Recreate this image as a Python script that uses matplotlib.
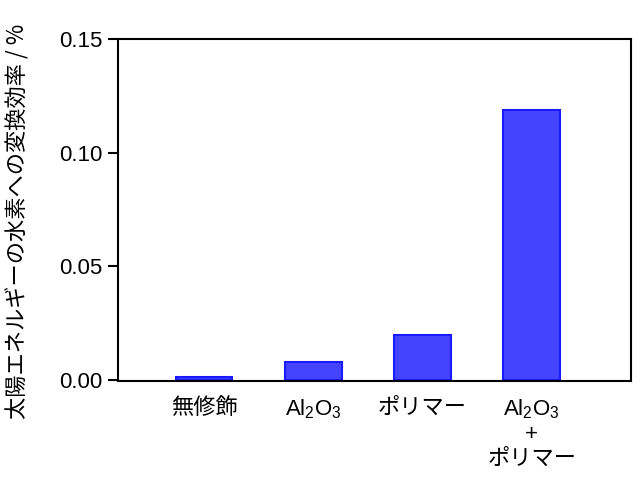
import matplotlib
matplotlib.use('Agg')
import matplotlib.pyplot as plt

categories = ['無修飾', 'Al$_2$O$_3$', 'ポリマー', 'Al$_2$O$_3$\n+\nポリマー']
efficiency = [0.0013, 0.0077, 0.0197, 0.119]
yticks = [0.00, 0.05, 0.10, 0.15]

plt.rcParams['font.family'] = ['Liberation Sans', 'Noto Sans CJK JP', 'DejaVu Sans']
plt.rcParams['mathtext.fontset'] = 'custom'
plt.rcParams['mathtext.rm'] = 'Liberation Sans'
plt.rcParams['mathtext.it'] = 'Liberation Sans'

fig = plt.figure(figsize=(6.4, 4.91), dpi=100)
ax = fig.add_axes([0.184, 0.224, 0.802, 0.696])

x = range(len(categories))
ax.bar(x, efficiency, width=0.52, color='#4444ff', edgecolor='#1a1aff', linewidth=1.5)

ax.set_xlim(-0.79, 3.91)
ax.set_ylim(-0.0005, 0.15)
ax.set_yticks(yticks)
ax.set_yticklabels([f'{v:.2f}' for v in yticks], fontsize=16)
ax.set_xticks(list(x))
ax.set_xticklabels(categories, fontsize=16, linespacing=1.2)
ax.tick_params(axis='x', length=0, pad=12)
ax.tick_params(axis='y', direction='out', length=7, width=1.5, pad=4)
for s in ax.spines.values():
    s.set_linewidth(1.5)

ax.set_ylabel('太陽エネルギーの水素への変換効率 / %', fontsize=16,
              family=['Noto Sans CJK JP', 'DejaVu Sans'])
ax.yaxis.set_label_coords(-0.172, 0.466)

plt.savefig('out.png', dpi=100)
